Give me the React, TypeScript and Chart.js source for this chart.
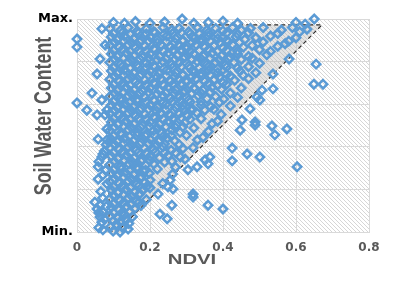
import React, { useEffect, useRef } from "react";
import { Chart, registerables } from "chart.js";

Chart.register(...registerables);

// ---- Data (NDVI, soil water content on a 0 (Min.) .. 5 (Max.) scale) ----
const xTickValues = [0, 0.2, 0.4, 0.6, 0.8];
const yTickLabels: Record<number, string> = { 0: "Min.", 5: "Max." };

// dry-edge / wet-edge envelope (dashed triangle)
const envelopeX = [0.0877, 0.1096, 0.671, 0.0877, 0.0877];
const envelopeY = [0, 0, 4.86, 4.86, 0];

const leftEdgePoints: number[][] = [
  [0.071, 0.05], [0.099, 0.02], [0.118, 0.0], [0.14, 0.07], [0.068, 0.23], [0.063, 0.35],
  [0.071, 0.47], [0.055, 0.54], [0.063, 0.63], [0.049, 0.7], [0.082, 1.13], [0.058, 1.24],
  [0.071, 1.34], [0.058, 1.53], [0.068, 1.76], [0.071, 1.83], [0.082, 2.16], [0.058, 2.18],
  [0.082, 2.42], [0.077, 2.75], [0.082, 2.86], [0.055, 2.75], [0.027, 2.86], [0.0, 3.03],
  [0.068, 3.1], [0.041, 3.26], [0.055, 3.71], [0.063, 4.06], [0.077, 4.39], [0.0, 4.34],
  [0.0, 4.53], [0.068, 4.77], [0.06, 0.1], [0.075, 0.3], [0.06, 0.45], [0.08, 0.6],
  [0.07, 0.8], [0.065, 0.95], [0.078, 1.45], [0.06, 1.65], [0.075, 1.9], [0.08, 2.05],
];

const coreLower: number[][] = [
  [0.092, 0.12], [0.108, 0.18], [0.125, 0.1], [0.142, 0.2],
  [0.09, 0.38], [0.112, 0.33], [0.13, 0.4], [0.152, 0.36],
  [0.094, 0.58], [0.115, 0.52], [0.136, 0.6], [0.158, 0.55], [0.175, 0.62],
  [0.09, 0.78], [0.118, 0.74], [0.14, 0.8], [0.162, 0.72], [0.19, 0.76],
  [0.095, 0.98], [0.112, 0.92], [0.134, 1.0], [0.158, 0.94], [0.18, 0.98], [0.2, 1.04],
  [0.09, 1.18], [0.116, 1.14], [0.14, 1.2], [0.163, 1.12], [0.186, 1.17], [0.235, 1.14],
  [0.094, 1.38], [0.11, 1.32], [0.132, 1.4], [0.155, 1.35], [0.176, 1.3], [0.198, 1.38], [0.262, 1.36],
  [0.09, 1.58], [0.12, 1.54], [0.142, 1.6], [0.165, 1.52], [0.188, 1.57], [0.21, 1.6], [0.27, 1.52],
  [0.094, 1.78], [0.112, 1.72], [0.135, 1.8], [0.156, 1.74], [0.178, 1.7], [0.2, 1.78], [0.226, 1.74], [0.25, 1.8], [0.283, 1.76],
  [0.09, 1.98], [0.116, 1.94], [0.14, 2.0], [0.162, 1.92], [0.185, 1.97], [0.21, 1.94], [0.236, 2.0], [0.258, 1.92], [0.29, 1.96], [0.318, 1.98],
  [0.094, 2.18], [0.11, 2.12], [0.13, 2.2], [0.154, 2.14], [0.176, 2.1], [0.2, 2.18], [0.224, 2.12], [0.247, 2.2], [0.268, 2.14], [0.33, 2.16], [0.345, 2.22],
  [0.09, 2.38], [0.12, 2.32], [0.14, 2.4], [0.166, 2.34], [0.19, 2.3], [0.21, 2.38], [0.232, 2.32], [0.26, 2.4], [0.282, 2.34], [0.36, 2.36],
];

const coreLowerFill: number[][] = [
  [0.1, 0.26], [0.118, 0.24], [0.135, 0.28],
  [0.1, 0.46], [0.122, 0.44], [0.145, 0.48],
  [0.1, 0.66], [0.126, 0.68], [0.148, 0.64], [0.17, 0.7],
  [0.1, 0.86], [0.128, 0.88], [0.15, 0.84], [0.172, 0.9],
  [0.1, 1.06], [0.124, 1.08], [0.146, 1.04], [0.17, 1.09], [0.19, 1.06],
  [0.102, 1.26], [0.128, 1.28], [0.15, 1.24], [0.174, 1.26], [0.2, 1.22],
  [0.1, 1.46], [0.122, 1.48], [0.144, 1.44], [0.166, 1.47], [0.188, 1.45], [0.22, 1.48],
  [0.102, 1.66], [0.13, 1.68], [0.152, 1.64], [0.176, 1.66], [0.2, 1.68], [0.24, 1.64], [0.26, 1.66],
  [0.1, 1.86], [0.124, 1.88], [0.146, 1.84], [0.168, 1.87], [0.19, 1.85], [0.215, 1.88], [0.24, 1.86], [0.27, 1.86],
  [0.102, 2.06], [0.128, 2.08], [0.15, 2.04], [0.172, 2.06], [0.196, 2.08], [0.218, 2.04], [0.24, 2.07], [0.28, 2.05],
  [0.1, 2.26], [0.122, 2.28], [0.144, 2.24], [0.165, 2.27], [0.188, 2.25], [0.212, 2.28], [0.236, 2.24], [0.258, 2.26], [0.3, 2.27],
  [0.102, 2.46], [0.128, 2.48], [0.15, 2.44], [0.174, 2.46], [0.198, 2.48], [0.22, 2.44], [0.244, 2.47], [0.27, 2.45], [0.29, 2.47], [0.32, 2.44],
];

const coreMiddle: number[][] = [
  [0.094, 2.58], [0.112, 2.52], [0.134, 2.6], [0.156, 2.54], [0.18, 2.5], [0.2, 2.58], [0.226, 2.53], [0.25, 2.6], [0.272, 2.52], [0.296, 2.57], [0.37, 2.54], [0.385, 2.6],
  [0.09, 2.78], [0.116, 2.74], [0.14, 2.8], [0.16, 2.72], [0.186, 2.77], [0.21, 2.7], [0.23, 2.8], [0.256, 2.74], [0.28, 2.78], [0.302, 2.72], [0.328, 2.8], [0.395, 2.76],
  [0.094, 2.98], [0.11, 2.92], [0.132, 3.0], [0.154, 2.94], [0.176, 2.9], [0.2, 2.98], [0.22, 2.93], [0.244, 3.0], [0.27, 2.92], [0.29, 2.97], [0.315, 2.9], [0.34, 2.98], [0.366, 2.94], [0.42, 2.96],
  [0.09, 3.18], [0.12, 3.14], [0.14, 3.2], [0.166, 3.12], [0.186, 3.17], [0.21, 3.1], [0.236, 3.2], [0.256, 3.14], [0.28, 3.18], [0.306, 3.1], [0.332, 3.2], [0.356, 3.13], [0.38, 3.18], [0.402, 3.12], [0.44, 3.16],
  [0.094, 3.38], [0.11, 3.32], [0.134, 3.4], [0.156, 3.34], [0.18, 3.3], [0.2, 3.38], [0.226, 3.32], [0.25, 3.4], [0.27, 3.34], [0.296, 3.3], [0.32, 3.38], [0.345, 3.33], [0.37, 3.4], [0.396, 3.35], [0.45, 3.38],
  [0.09, 3.58], [0.116, 3.54], [0.14, 3.6], [0.16, 3.52], [0.186, 3.57], [0.21, 3.5], [0.23, 3.6], [0.256, 3.54], [0.28, 3.58], [0.3, 3.52], [0.326, 3.6], [0.35, 3.54], [0.376, 3.58], [0.4, 3.5], [0.432, 3.56], [0.47, 3.6],
];

const coreMiddleFill: number[][] = [
  [0.1, 2.66], [0.124, 2.68], [0.146, 2.64], [0.168, 2.67], [0.19, 2.65], [0.214, 2.68], [0.238, 2.64], [0.262, 2.66], [0.286, 2.68], [0.31, 2.65], [0.34, 2.66],
  [0.102, 2.86], [0.128, 2.88], [0.15, 2.84], [0.172, 2.86], [0.196, 2.88], [0.218, 2.84], [0.242, 2.87], [0.266, 2.85], [0.29, 2.88], [0.314, 2.85], [0.35, 2.86], [0.375, 2.88],
  [0.1, 3.06], [0.122, 3.08], [0.144, 3.04], [0.166, 3.07], [0.19, 3.05], [0.212, 3.08], [0.236, 3.04], [0.26, 3.06], [0.284, 3.08], [0.31, 3.05], [0.34, 3.06], [0.39, 3.04],
  [0.102, 3.26], [0.128, 3.28], [0.15, 3.24], [0.172, 3.26], [0.196, 3.28], [0.22, 3.24], [0.244, 3.27], [0.268, 3.25], [0.29, 3.28], [0.315, 3.25], [0.34, 3.26], [0.365, 3.28], [0.42, 3.26],
  [0.1, 3.46], [0.124, 3.48], [0.146, 3.44], [0.168, 3.47], [0.19, 3.45], [0.214, 3.48], [0.238, 3.44], [0.262, 3.46], [0.286, 3.48], [0.31, 3.45], [0.335, 3.46], [0.36, 3.48], [0.385, 3.44], [0.41, 3.47],
  [0.102, 3.66], [0.128, 3.68], [0.15, 3.64], [0.172, 3.66], [0.196, 3.68], [0.22, 3.64], [0.244, 3.67], [0.268, 3.65], [0.29, 3.68], [0.315, 3.65], [0.34, 3.66], [0.365, 3.68], [0.39, 3.64], [0.42, 3.66], [0.455, 3.68],
];

const coreUpper: number[][] = [
  [0.094, 3.78], [0.11, 3.72], [0.13, 3.8], [0.155, 3.74], [0.176, 3.7], [0.2, 3.78], [0.225, 3.72], [0.246, 3.8], [0.27, 3.74], [0.29, 3.7], [0.316, 3.78], [0.34, 3.73], [0.36, 3.8], [0.386, 3.74], [0.41, 3.7], [0.446, 3.78], [0.49, 3.74],
  [0.09, 3.98], [0.12, 3.94], [0.14, 4.0], [0.165, 3.92], [0.19, 3.97], [0.21, 3.9], [0.236, 4.0], [0.26, 3.94], [0.28, 3.98], [0.306, 3.9], [0.33, 4.0], [0.356, 3.93], [0.38, 3.98], [0.406, 3.92], [0.43, 3.98], [0.5, 3.96],
  [0.094, 4.18], [0.11, 4.12], [0.135, 4.2], [0.156, 4.14], [0.18, 4.1], [0.2, 4.18], [0.226, 4.12], [0.25, 4.2], [0.275, 4.14], [0.296, 4.1], [0.32, 4.18], [0.346, 4.13], [0.37, 4.2], [0.396, 4.14], [0.42, 4.1], [0.44, 4.18], [0.47, 4.12], [0.52, 4.16],
  [0.09, 4.38], [0.116, 4.34], [0.14, 4.4], [0.16, 4.32], [0.186, 4.37], [0.21, 4.3], [0.23, 4.4], [0.256, 4.34], [0.28, 4.38], [0.3, 4.3], [0.326, 4.4], [0.35, 4.34], [0.376, 4.38], [0.4, 4.32], [0.426, 4.4], [0.456, 4.34], [0.48, 4.38], [0.55, 4.36], [0.57, 4.42],
  [0.094, 4.58], [0.11, 4.52], [0.13, 4.6], [0.155, 4.54], [0.176, 4.5], [0.2, 4.58], [0.22, 4.52], [0.246, 4.6], [0.27, 4.54], [0.29, 4.5], [0.316, 4.58], [0.34, 4.53], [0.36, 4.6], [0.386, 4.54], [0.41, 4.5], [0.436, 4.58], [0.46, 4.52], [0.49, 4.56], [0.53, 4.6], [0.6, 4.56],
  [0.09, 4.78], [0.12, 4.74], [0.14, 4.8], [0.165, 4.72], [0.19, 4.77], [0.21, 4.7], [0.236, 4.8], [0.26, 4.74], [0.28, 4.78], [0.306, 4.7], [0.33, 4.8], [0.356, 4.74], [0.38, 4.78], [0.4, 4.72], [0.426, 4.8], [0.45, 4.74], [0.475, 4.78], [0.51, 4.8], [0.56, 4.74], [0.59, 4.8], [0.63, 4.76],
  [0.1, 4.92], [0.13, 4.9], [0.16, 4.94], [0.2, 4.9], [0.24, 4.93], [0.288, 5.0], [0.32, 4.9], [0.36, 4.92], [0.4, 4.95], [0.44, 4.9], [0.6, 4.92], [0.625, 4.88], [0.65, 5.0],
];

const coreUpperFill: number[][] = [
  [0.1, 3.86], [0.124, 3.88], [0.146, 3.84], [0.168, 3.87], [0.19, 3.85], [0.214, 3.88], [0.238, 3.84], [0.262, 3.86], [0.286, 3.88], [0.31, 3.85], [0.335, 3.86], [0.36, 3.88], [0.385, 3.84], [0.41, 3.87], [0.44, 3.85], [0.47, 3.88],
  [0.102, 4.06], [0.128, 4.08], [0.15, 4.04], [0.172, 4.06], [0.196, 4.08], [0.22, 4.04], [0.244, 4.07], [0.268, 4.05], [0.29, 4.08], [0.315, 4.05], [0.34, 4.06], [0.365, 4.08], [0.39, 4.04], [0.415, 4.07], [0.45, 4.05], [0.48, 4.08],
  [0.1, 4.26], [0.124, 4.28], [0.146, 4.24], [0.168, 4.27], [0.19, 4.25], [0.214, 4.28], [0.238, 4.24], [0.262, 4.26], [0.286, 4.28], [0.31, 4.25], [0.335, 4.26], [0.36, 4.28], [0.385, 4.24], [0.41, 4.27], [0.44, 4.25], [0.5, 4.28], [0.53, 4.24],
  [0.102, 4.46], [0.128, 4.48], [0.15, 4.44], [0.172, 4.46], [0.196, 4.48], [0.22, 4.44], [0.244, 4.47], [0.268, 4.45], [0.29, 4.48], [0.315, 4.45], [0.34, 4.46], [0.365, 4.48], [0.39, 4.44], [0.415, 4.47], [0.445, 4.45], [0.51, 4.46], [0.58, 4.48],
  [0.1, 4.66], [0.124, 4.68], [0.146, 4.64], [0.168, 4.67], [0.19, 4.65], [0.214, 4.68], [0.238, 4.64], [0.262, 4.66], [0.286, 4.68], [0.31, 4.65], [0.335, 4.66], [0.36, 4.68], [0.385, 4.64], [0.41, 4.67], [0.44, 4.65], [0.47, 4.68], [0.55, 4.66], [0.61, 4.7],
];

const rightTailPoints: number[][] = [
  [0.655, 3.94], [0.649, 3.47], [0.674, 3.47], [0.581, 4.06], [0.537, 3.71], [0.534, 2.49],
  [0.575, 2.42], [0.542, 2.28], [0.488, 2.58], [0.488, 2.51], [0.452, 2.63], [0.447, 2.39],
  [0.466, 1.83], [0.501, 1.76], [0.603, 1.53], [0.537, 3.36], [0.507, 3.33], [0.493, 3.17],
  [0.501, 3.1], [0.474, 2.89], [0.425, 1.67], [0.364, 1.76], [0.359, 1.6], [0.329, 1.53],
  [0.304, 1.46], [0.351, 1.69], [0.318, 0.89], [0.318, 0.82], [0.26, 0.63], [0.359, 0.63],
  [0.4, 0.54], [0.227, 0.42], [0.247, 0.31], [0.249, 1.06], [0.263, 1.01], [0.222, 0.89],
  [0.255, 1.22], [0.296, 1.71], [0.425, 1.97],
];

const allPoints = [
  ...leftEdgePoints, ...coreLower, ...coreLowerFill, ...coreMiddle, ...coreMiddleFill,
  ...coreUpper, ...coreUpperFill, ...rightTailPoints,
];

const hatchPlugin = {
  id: "hatchAndTitles",
  beforeDraw(chart: any) {
    const { ctx, chartArea: a } = chart;
    if (!a) return;
    const p = document.createElement("canvas");
    p.width = 4;
    p.height = 4;
    const pc = p.getContext("2d")!;
    pc.fillStyle = "#ffffff";
    pc.fillRect(0, 0, 4, 4);
    pc.strokeStyle = "#d6d6d6";
    pc.lineWidth = 1;
    pc.beginPath();
    pc.moveTo(-1, -1);
    pc.lineTo(5, 5);
    pc.moveTo(-1, 3);
    pc.lineTo(1, 5);
    pc.moveTo(3, -1);
    pc.lineTo(5, 1);
    pc.stroke();
    ctx.save();
    ctx.fillStyle = ctx.createPattern(p, "repeat");
    ctx.fillRect(a.left, a.top, a.right - a.left, a.bottom - a.top);
    ctx.restore();
  },
  beforeDatasetsDraw(chart: any) {
    const { ctx, scales } = chart;
    const xs = scales.x;
    const ys = scales.y;
    ctx.save();
    ctx.beginPath();
    envelopeX.forEach((x, i) => {
      const px = xs.getPixelForValue(x);
      const py = ys.getPixelForValue(envelopeY[i]);
      if (i === 0) ctx.moveTo(px, py);
      else ctx.lineTo(px, py);
    });
    ctx.closePath();
    ctx.fillStyle = "rgba(175,175,175,0.35)";
    ctx.fill();
    ctx.restore();
  },
  afterDraw(chart: any) {
    const { ctx, chartArea: a } = chart;
    ctx.save();
    ctx.fillStyle = "#595959";
    ctx.textAlign = "center";
    ctx.textBaseline = "alphabetic";
    // x title
    ctx.save();
    ctx.translate(192, a.bottom + 32);
    ctx.scale(1.45, 1);
    ctx.font = 'bold 14px "Liberation Sans", Arial, sans-serif';
    ctx.fillText("NDVI", 0, 0);
    ctx.restore();
    // y title
    ctx.save();
    ctx.translate(44, 116);
    ctx.rotate(-Math.PI / 2);
    ctx.scale(1, 1.35);
    ctx.textBaseline = "middle";
    ctx.font = 'bold 17.8px "Liberation Sans", Arial, sans-serif';
    ctx.fillText("Soil Water Content", 0, 0);
    ctx.restore();
    ctx.restore();
  },
};

export default function App() {
  const ref = useRef<HTMLCanvasElement>(null);
  useEffect(() => {
    if (!ref.current) return;
    const chart = new Chart(ref.current, {
      type: "scatter",
      data: {
        datasets: [
          {
            label: "samples",
            data: allPoints.map(([x, y]) => ({ x, y })),
            pointStyle: "rectRot",
            pointRadius: 4.2,
            pointBorderWidth: 2.5,
            pointBorderColor: "#5B9BD5",
            pointBackgroundColor: "rgba(0,0,0,0)",
            showLine: false,
            clip: false as any,
          },
          {
            type: "line",
            label: "envelope",
            data: envelopeX.map((x, i) => ({ x, y: envelopeY[i] })),
            borderColor: "#2b2b2b",
            borderWidth: 1.2,
            borderDash: [4, 3],
            pointRadius: 0,
            tension: 0,
            fill: false,
          } as any,
        ],
      },
      options: {
        animation: false,
        responsive: true,
        maintainAspectRatio: false,
        layout: { padding: { top: 19, right: 37, left: 0, bottom: 0 } },
        plugins: { legend: { display: false }, tooltip: { enabled: false } },
        scales: {
          x: {
            type: "linear",
            min: 0,
            max: 0.8,
            afterFit: (s: any) => {
              s.height = 51;
            },
            afterBuildTicks: (s: any) => {
              s.ticks = xTickValues.map((v) => ({ value: v }));
            },
            ticks: {
              padding: 9,
              color: "#595959",
              font: { family: '"DejaVu Sans", sans-serif', weight: "bold", size: 12 },
              callback: (v: any) => String(Number(v)),
            },
            grid: { color: "#d9d9d9", drawTicks: false },
            border: { color: "#d9d9d9" },
          },
          y: {
            type: "linear",
            min: 0,
            max: 5,
            afterFit: (s: any) => {
              s.width = 77;
            },
            ticks: {
              stepSize: 1,
              padding: 4,
              color: "#000000",
              font: { family: '"DejaVu Sans", sans-serif', weight: "bold", size: 13 },
              callback: (v: any) => yTickLabels[Number(v)] ?? "",
            },
            grid: { color: "#d9d9d9", drawTicks: false },
            border: { color: "#d9d9d9" },
          },
        },
      },
      plugins: [hatchPlugin],
    });
    return () => chart.destroy();
  }, []);
  return (
    <div style={{ position: "fixed", left: 0, top: 0, width: 406, height: 283, background: "#fff" }}>
      <canvas ref={ref} />
    </div>
  );
}
